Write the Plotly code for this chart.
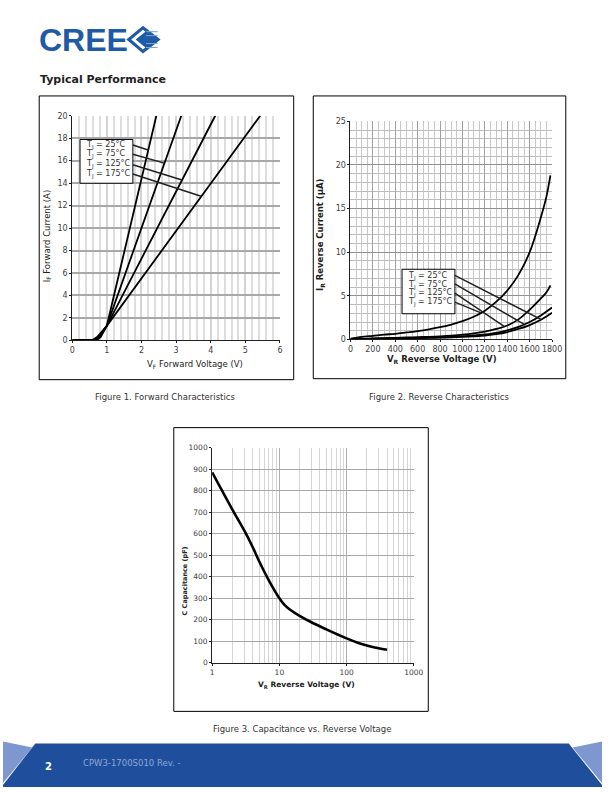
import plotly.graph_objects as go

W, H = 612, 792
FONT = "DejaVu Sans"

# ---------------- Figure 1 data: forward characteristics ----------------
f1_temps = ["25°C", "75°C", "125°C", "175°C"]
vf_25 = [0, 0.55, 0.72, 0.82, 0.92, 1.0, 2.43]
if_25 = [0, 0.01, 0.06, 0.3, 0.8, 1.3, 20]
vf_75 = [0, 0.5, 0.68, 0.78, 0.9, 1.0, 3.15]
if_75 = [0, 0.01, 0.06, 0.3, 0.85, 1.3, 20]
vf_125 = [0, 0.5, 0.64, 0.75, 0.88, 1.0, 4.13]
if_125 = [0, 0.01, 0.06, 0.3, 0.85, 1.3, 20]
vf_175 = [0, 0.45, 0.6, 0.72, 0.86, 1.0, 5.43]
if_175 = [0, 0.01, 0.06, 0.3, 0.85, 1.3, 20]

# ---------------- Figure 2 data: reverse characteristics ----------------
vr_175 = [0, 100, 200, 300, 400, 500, 600, 700, 800, 900, 1000, 1100, 1200,
          1300, 1400, 1500, 1600, 1700, 1750, 1785]
ir_175 = [0.1, 0.3, 0.42, 0.55, 0.65, 0.8, 0.95, 1.15, 1.4, 1.7, 2.1, 2.6, 3.3,
          4.3, 5.6, 7.4, 10.0, 14.0, 16.4, 18.8]
vr_125 = [0, 100, 200, 300, 400, 500, 600, 700, 800, 900, 1000, 1100, 1200,
          1300, 1400, 1500, 1600, 1700, 1750, 1785]
ir_125 = [0.05, 0.08, 0.12, 0.15, 0.18, 0.22, 0.26, 0.3, 0.36, 0.44, 0.55, 0.7,
          0.9, 1.2, 1.6, 2.3, 3.4, 4.7, 5.4, 6.2]
vr_75 = [0, 100, 200, 300, 400, 500, 600, 700, 800, 900, 1000, 1100, 1200,
         1300, 1400, 1500, 1600, 1700, 1800]
ir_75 = [0.03, 0.05, 0.08, 0.1, 0.12, 0.15, 0.18, 0.21, 0.25, 0.3, 0.37, 0.45,
         0.57, 0.75, 1.05, 1.45, 2.0, 2.75, 3.65]
vr_25 = [0, 100, 200, 300, 400, 500, 600, 700, 800, 900, 1000, 1100, 1200,
         1300, 1400, 1500, 1600, 1700, 1800]
ir_25 = [0.02, 0.04, 0.06, 0.08, 0.1, 0.12, 0.14, 0.17, 0.2, 0.24, 0.29, 0.35,
         0.43, 0.6, 0.85, 1.2, 1.65, 2.25, 3.05]

# ---------------- Figure 3 data: capacitance ----------------
vr_c = [1, 2, 3, 4, 5, 7, 10, 12, 15, 20, 30, 50, 75, 100, 150, 200, 300, 400]
cap_pf = [885, 712, 615, 538, 472, 382, 300, 268, 243, 218, 188, 155, 130, 113,
          92, 80, 67, 60]

# tick labels
f1_xticks = [0, 1, 2, 3, 4, 5, 6]
f1_yticks = [0, 2, 4, 6, 8, 10, 12, 14, 16, 18, 20]
f2_xticks = [0, 200, 400, 600, 800, 1000, 1200, 1400, 1600, 1800]
f2_yticks = [0, 5, 10, 15, 20, 25]
f3_xticks = [1, 10, 100, 1000]
f3_yticks = list(range(0, 1001, 100))


def px(x):
    return x / W


def py(y):
    return 1 - y / H


fig = go.Figure()
line_kw = dict(color="black", width=1.8)

for xs, ys in [(vf_25, if_25), (vf_75, if_75), (vf_125, if_125), (vf_175, if_175)]:
    fig.add_trace(go.Scatter(x=xs, y=ys, mode="lines", line=line_kw,
                             xaxis="x", yaxis="y", showlegend=False, hoverinfo="skip"))
for xs, ys in [(vr_175, ir_175), (vr_125, ir_125), (vr_75, ir_75), (vr_25, ir_25)]:
    fig.add_trace(go.Scatter(x=xs, y=ys, mode="lines", line=dict(color="black", width=1.8),
                             line_shape="spline", xaxis="x2", yaxis="y2",
                             showlegend=False, hoverinfo="skip"))
fig.add_trace(go.Scatter(x=vr_c, y=cap_pf, mode="lines", line=dict(color="black", width=2.6),
                         line_shape="spline", xaxis="x3", yaxis="y3",
                         showlegend=False, hoverinfo="skip"))

tickfont = dict(family=FONT, size=8, color="#404040")
axis_common = dict(showline=True, linecolor="#202020", linewidth=1, ticks="outside",
                   ticklen=2, tickcolor="#202020", tickfont=tickfont, zeroline=False,
                   tickangle=0)

fig.update_layout(
    width=W, height=H, margin=dict(l=0, r=0, t=0, b=0),
    paper_bgcolor="white", plot_bgcolor="white", showlegend=False,
    xaxis=dict(domain=[px(70.7), px(283)], anchor="y", range=[0, 6],
               tickvals=f1_xticks, showgrid=True, gridcolor="#d4d4d4", gridwidth=1.5,
               minor=dict(dtick=0.2, showgrid=True, gridcolor="#dedede", gridwidth=1.5),
               **axis_common),
    yaxis=dict(domain=[py(340.3), py(113)], anchor="x", range=[0, 20],
               tickvals=f1_yticks, showgrid=True, gridcolor="#a8a8a8", gridwidth=1.5,
               **axis_common),
    xaxis2=dict(domain=[px(355), px(561)], anchor="y2", range=[0, 1800],
                tickvals=f2_xticks, showgrid=True, gridcolor="#a0a0a0", gridwidth=1,
                minor=dict(dtick=50, showgrid=True, gridcolor="#c8c8c8", gridwidth=1),
                **axis_common),
    yaxis2=dict(domain=[py(339.3), py(118.7)], anchor="x2", range=[0, 25],
                tickvals=f2_yticks, showgrid=True, gridcolor="#909090", gridwidth=1.3,
                minor=dict(dtick=1, showgrid=True, gridcolor="#bdbdbd", gridwidth=1),
                **axis_common),
    xaxis3=dict(domain=[px(213.7), px(419.7)], anchor="y3", type="log", range=[0, 3],
                tickvals=f3_xticks, ticktext=[str(v) for v in f3_xticks],
                showgrid=True, gridcolor="#b0b0b0", gridwidth=1,
                minor=dict(tickvals=[2, 3, 4, 5, 6, 7, 8, 9, 20, 30, 40, 50, 60, 70, 80, 90,
                                     200, 300, 400, 500, 600, 700, 800, 900],
                           showgrid=True, gridcolor="#d6d6d6", gridwidth=1),
                **axis_common),
    yaxis3=dict(domain=[py(666.3), py(448.7)], anchor="x3", range=[0, 1000],
                tickvals=f3_yticks, showgrid=True, gridcolor="#a8a8a8", gridwidth=1,
                **axis_common),
)
fig.layout.xaxis3.tickfont.size = 7.5
fig.layout.yaxis3.tickfont.size = 7.5

shapes = []
ann = []


def rect(x0, y0, x1, y1, color="black", width=1, fill=None):
    d = dict(type="rect", xref="paper", yref="paper", x0=px(x0), x1=px(x1),
             y0=py(y1), y1=py(y0), line=dict(color=color, width=width), layer="above")
    if fill:
        d["fillcolor"] = fill
    shapes.append(d)


def text(x, y, s, size=8, color="#333", bold=False, xanchor="left", angle=0, family=FONT):
    if bold:
        s = "<b>" + s + "</b>"
    ann.append(dict(x=px(x), y=py(y), xref="paper", yref="paper", text=s, showarrow=False,
                    xanchor=xanchor, yanchor="middle", textangle=angle,
                    font=dict(family=family, size=size, color=color)))


# Outer frames
rect(37, 93, 297, 380)
rect(317, 93, 575, 379)
rect(174.5, 428.5, 434.5, 715.5)

# Figure 1 legend box and leader lines
rect(78.7, 137, 132.7, 181.3, fill="white")
for i, t in enumerate(f1_temps):
    text(82.7, 143 + 9.7 * i, "T<sub>J</sub> = " + t, size=8, color="#333")
f1_leaders = [((1.752, 17.39), (2.19, 16.95)), ((1.752, 16.57), (2.66, 15.78)),
              ((1.752, 15.63), (3.17, 14.28)), ((1.752, 14.81), (3.72, 12.84))]
for (a, b) in f1_leaders:
    shapes.append(dict(type="line", xref="x", yref="y", x0=a[0], y0=a[1], x1=b[0], y1=b[1],
                       line=dict(color="#202020", width=1.5), layer="above"))

# Figure 2 legend box and leader lines
rect(407.7, 268.3, 461.7, 313.3, fill="white")
for i, t in enumerate(f1_temps):
    text(411.7, 275.5 + 8.8 * i, "T<sub>J</sub> = " + t, size=8, color="#333")
f2_leaders = [((932, 7.34), (1704, 2.27)), ((932, 6.38), (1547, 1.75)),
              ((932, 5.30), (1372, 1.5)), ((932, 4.28), (1165, 3.05))]
for (a, b) in f2_leaders:
    shapes.append(dict(type="line", xref="x2", yref="y2", x0=a[0], y0=a[1], x1=b[0], y1=b[1],
                       line=dict(color="#202020", width=1.5), layer="above"))

# Axis titles
text(45, 235, "I<sub>F</sub> Forward Current (A)", size=8.5, color="#222", xanchor="center", angle=-90)
text(196.5, 364.5, "V<sub>F</sub> Forward Voltage (V)", size=8.5, color="#222", xanchor="center")
text(325, 233.5, "I<sub>R</sub> Reverse Current (µA)", size=8.5, color="#222", bold=True, xanchor="center", angle=-90)
text(448.5, 359.5, "V<sub>R</sub> Reverse Voltage (V)", size=8.5, color="#222", bold=True, xanchor="center")
text(186, 584, "C Capacitance (pF)", size=6.5, color="#222", bold=True, xanchor="center", angle=-90)
text(310, 688.5, "V<sub>R</sub> Reverse Voltage (V)", size=7.5, color="#222", bold=True, xanchor="center")

# Captions
text(166, 397.5, "Figure 1. Forward Characteristics", size=8.5, color="#333", xanchor="center")
text(445.5, 397.5, "Figure 2. Reverse Characteristics", size=8.5, color="#333", xanchor="center")
text(305, 733, "Figure 3. Capacitance vs. Reverse Voltage", size=8.5, color="#333", xanchor="center")

# Heading
text(36, 76, "Typical Performance", size=11, color="#222", bold=True)

# Logo
text(35, 36, "CREE", size=32, color="#1f5aa6", bold=True, family="Liberation Sans")
shapes.append(dict(type="path", xref="paper", yref="paper",
                   path=f"M {px(126)},{py(36)} L {px(143)},{py(22)} L {px(161)},{py(36)} L {px(143)},{py(50)} Z",
                   fillcolor="#1f5aa6", line=dict(width=0), layer="above"))
shapes.append(dict(type="path", xref="paper", yref="paper",
                   path=(f"M {px(131)},{py(36)} L {px(143)},{py(26)} L {px(145.5)},{py(28)} "
                         f"L {px(135.5)},{py(36)} L {px(145.5)},{py(44)} L {px(143)},{py(46)} Z"),
                   fillcolor="white", line=dict(width=0), layer="above"))
for yy in [28, 32, 40, 44]:
    shapes.append(dict(type="line", xref="paper", yref="paper", x0=px(146), x1=px(158),
                       y0=py(yy), y1=py(yy), line=dict(color="#7fa3d6", width=1), layer="above"))

# Footer band
shapes.append(dict(type="path", xref="paper", yref="paper",
                   path=(f"M {px(33)},{py(748)} L {px(578)},{py(748)} L {px(612)},{py(790)} "
                         f"L {px(612)},{py(792)} L {px(0)},{py(792)} L {px(0)},{py(790)} Z"),
                   fillcolor="#1f4f9c", line=dict(width=0), layer="above"))
shapes.append(dict(type="path", xref="paper", yref="paper",
                   path=f"M {px(0)},{py(746)} L {px(30)},{py(752)} L {px(0)},{py(788)} Z",
                   fillcolor="#7f97cf", line=dict(width=0), layer="above"))
shapes.append(dict(type="path", xref="paper", yref="paper",
                   path=f"M {px(612)},{py(746)} L {px(582)},{py(752)} L {px(612)},{py(788)} Z",
                   fillcolor="#7f97cf", line=dict(width=0), layer="above"))
text(41, 771, "2", size=10, color="white", bold=True)
text(80, 768, "CPW3-1700S010 Rev. -", size=8.5, color="#8ea6d6")

fig.update_layout(shapes=shapes, annotations=ann)
fig.write_html("out.html", config={"displayModeBar": False},
               post_script="document.body.style.margin='0px';document.body.style.overflow='hidden';")
